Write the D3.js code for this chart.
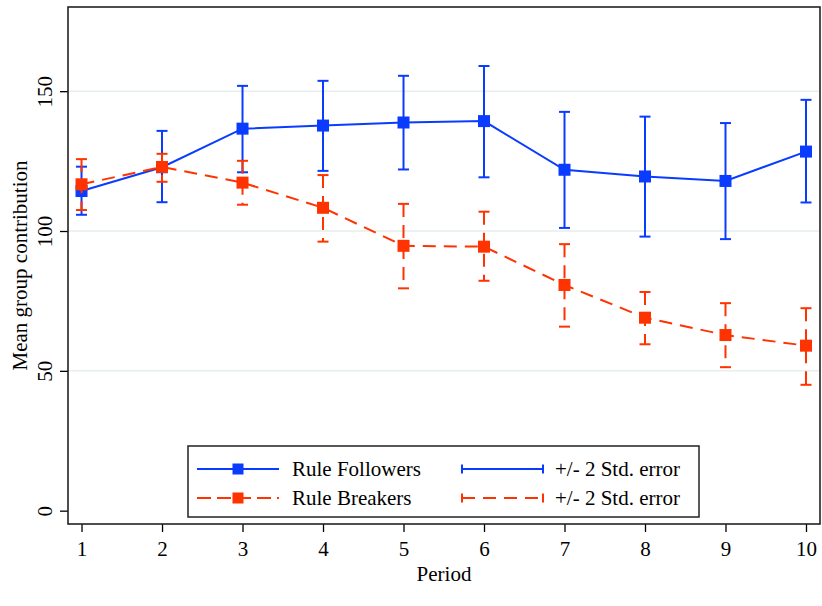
<!DOCTYPE html>
<html>
<head>
<meta charset="utf-8">
<script src="https://cdn.jsdelivr.net/npm/d3@7"></script>
<style>
  html, body { margin: 0; padding: 0; background: #fff; }
  svg { display: block; }
  text { font-family: "Liberation Serif", "Times New Roman", serif; fill: #000; }
</style>
</head>
<body>
<svg id="chart" width="822" height="606"></svg>
<script>
// ---- data ----
const periods = [1, 2, 3, 4, 5, 6, 7, 8, 9, 10];
const followersMean = [114.3, 122.8, 136.6, 137.7, 138.8, 139.3, 121.9, 119.5, 117.9, 128.4];
const followersHi   = [123.0, 135.8, 151.9, 153.7, 155.5, 159.0, 142.6, 140.9, 138.6, 146.9];
const followersLo   = [105.8, 110.3, 121.0, 121.5, 122.0, 119.2, 101.1, 98.0, 97.1, 110.2];
const breakersMean  = [116.7, 122.9, 117.3, 108.3, 94.7, 94.4, 80.7, 69.0, 62.8, 59.0];
const breakersHi    = [125.7, 127.6, 125.1, 120.0, 109.7, 106.9, 95.3, 78.2, 74.2, 72.4];
const breakersLo    = [107.5, 117.6, 109.4, 96.2, 79.5, 82.2, 65.8, 59.5, 51.3, 45.0];
const yTicks = [0, 50, 100, 150];
const gridTicks = [50, 100, 150];
const xTicks = periods;
const legendLabels = ["Rule Followers", "Rule Breakers", "+/- 2 Std. error", "+/- 2 Std. error"];

const BLUE = "#0a3cff";
const RED = "#ff3300";
const DASH = "13,8";
const FONT = 21;

const svg = d3.select("#chart");
const L = 68, R = 820, T = 7, B = 524;

const x = d3.scaleLinear().domain([0.832, 10.174]).range([L, R]);
const y = d3.scaleLinear().domain([-4.77, 180.1]).range([B, T]);

// gridlines
svg.append("g").selectAll("line").data(gridTicks).join("line")
  .attr("x1", L).attr("x2", R)
  .attr("y1", d => y(d)).attr("y2", d => y(d))
  .attr("stroke", "#e6eeef").attr("stroke-width", 1.5);

// axes
const yAxis = d3.axisLeft(y).tickValues(yTicks).tickSize(8).tickFormat(d3.format("d"));
const gy = svg.append("g").attr("transform", `translate(${L},0)`).call(yAxis);
gy.select(".domain").remove();
gy.selectAll(".tick line").attr("stroke", "#000").attr("stroke-width", 1.3);
gy.selectAll(".tick text")
  .attr("font-size", FONT)
  .attr("x", null).attr("dy", null)
  .attr("text-anchor", "middle")
  .attr("transform", "translate(-16,0) rotate(-90)")
  .attr("y", 0);

const xAxis = d3.axisBottom(x).tickValues(xTicks).tickSize(8).tickFormat(d3.format("d"));
const gx = svg.append("g").attr("transform", `translate(0,${B})`).call(xAxis);
gx.select(".domain").remove();
gx.selectAll(".tick line").attr("stroke", "#000").attr("stroke-width", 1.3);
gx.selectAll(".tick text").attr("font-size", FONT).attr("dy", null).attr("y", 32);

// frame
svg.append("rect").attr("x", L).attr("y", T).attr("width", R - L).attr("height", B - T)
  .attr("fill", "none").attr("stroke", "#222").attr("stroke-width", 1.6);

// axis titles
svg.append("text").attr("text-anchor", "middle").attr("font-size", FONT)
  .attr("transform", `translate(27,${(T + B) / 2}) rotate(-90)`)
  .text("Mean group contribution");
svg.append("text").attr("text-anchor", "middle").attr("font-size", FONT)
  .attr("x", (L + R) / 2).attr("y", 581).text("Period");

// series
function drawSeries(mean, hi, lo, color, dash) {
  const g = svg.append("g");
  const cap = 5.5;
  periods.forEach((p, i) => {
    g.append("line").attr("x1", x(p)).attr("x2", x(p)).attr("y1", y(hi[i])).attr("y2", y(lo[i]))
      .attr("stroke", color).attr("stroke-width", 2).attr("stroke-dasharray", dash);
    [hi[i], lo[i]].forEach(v => {
      g.append("line").attr("x1", x(p) - cap).attr("x2", x(p) + cap).attr("y1", y(v)).attr("y2", y(v))
        .attr("stroke", color).attr("stroke-width", 2);
    });
  });
  const line = d3.line().x((d, i) => x(periods[i])).y(d => y(d));
  g.append("path").attr("d", line(mean)).attr("fill", "none")
    .attr("stroke", color).attr("stroke-width", 2).attr("stroke-dasharray", dash);
  const s = 12;
  g.selectAll("rect").data(mean).join("rect")
    .attr("x", (d, i) => x(periods[i]) - s / 2).attr("y", d => y(d) - s / 2)
    .attr("width", s).attr("height", s).attr("fill", color);
}
drawSeries(followersMean, followersHi, followersLo, BLUE, null);
drawSeries(breakersMean, breakersHi, breakersLo, RED, DASH);

// legend
const lg = svg.append("g");
lg.append("rect").attr("x", 188).attr("y", 446).attr("width", 511).attr("height", 71)
  .attr("fill", "#fff").attr("stroke", "#222").attr("stroke-width", 1.5);
const rows = [469, 498];
const colors = [BLUE, RED];
const dashes = [null, "14,6"];
rows.forEach((ry, i) => {
  lg.append("line").attr("x1", 197).attr("x2", 279).attr("y1", ry).attr("y2", ry)
    .attr("stroke", colors[i]).attr("stroke-width", 2).attr("stroke-dasharray", dashes[i]);
  lg.append("rect").attr("x", 238 - 5.5).attr("y", ry - 5.5).attr("width", 11).attr("height", 11)
    .attr("fill", colors[i]);
  lg.append("text").attr("x", 292).attr("y", ry + 7).attr("font-size", FONT).text(legendLabels[i]);
  lg.append("line").attr("x1", 462).attr("x2", 543).attr("y1", ry).attr("y2", ry)
    .attr("stroke", colors[i]).attr("stroke-width", 2).attr("stroke-dasharray", dashes[i] ? "13,8" : null);
  [462, 543].forEach(cx => {
    lg.append("line").attr("x1", cx).attr("x2", cx).attr("y1", ry - 4.5).attr("y2", ry + 4.5)
      .attr("stroke", colors[i]).attr("stroke-width", 2);
  });
  lg.append("text").attr("x", 555).attr("y", ry + 7).attr("font-size", FONT).text(legendLabels[i + 2]);
});
</script>
</body>
</html>
